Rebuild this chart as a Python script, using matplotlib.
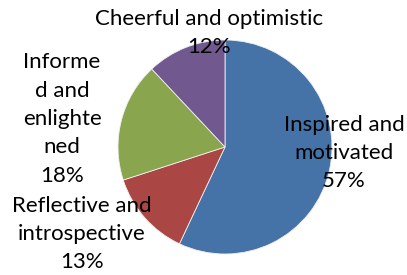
import matplotlib
matplotlib.use("Agg")
import matplotlib.pyplot as plt

categories = ["Inspired and motivated", "Reflective and introspective",
              "Informed and enlightened", "Cheerful and optimistic"]
values = [57, 13, 18, 12]
label_texts = ["Inspired and\nmotivated\n57%", "Reflective and\nintrospective\n13%",
               "Informe\nd and\nenlighte\nned\n18%", "Cheerful and optimistic\n12%"]
colors = ["#4572A7", "#AA4643", "#89A54E", "#71588F"]

W, H = 407, 275
cx, cy, R = 225, 147, 107
fig = plt.figure(figsize=(W / 100, H / 100), dpi=100)
ax = fig.add_axes([0, 0, 1, 1])
ax.pie(values, colors=colors, startangle=90, counterclock=False, radius=1,
       wedgeprops=dict(edgecolor="#f0f0f0", linewidth=0.6))
ax.set_xlim(-cx / R, (W - cx) / R)
ax.set_ylim((cy - H) / R, cy / R)
ax.set_aspect("equal")
ax.axis("off")

# label centres in pixels (x, y from top)
label_pos = [(344, 153), (82, 234), (62, 119), (209, 33)]

def px(x, y):
    return ((x - cx) / R, (cy - y) / R)

for txt, (lx, ly) in zip(label_texts, label_pos):
    X, Y = px(lx, ly)
    ax.text(X, Y, txt, ha="center", va="center", fontsize=16,
            family="Lato", color="#000000", linespacing=1.53)

fig.savefig("out.png", dpi=100)
